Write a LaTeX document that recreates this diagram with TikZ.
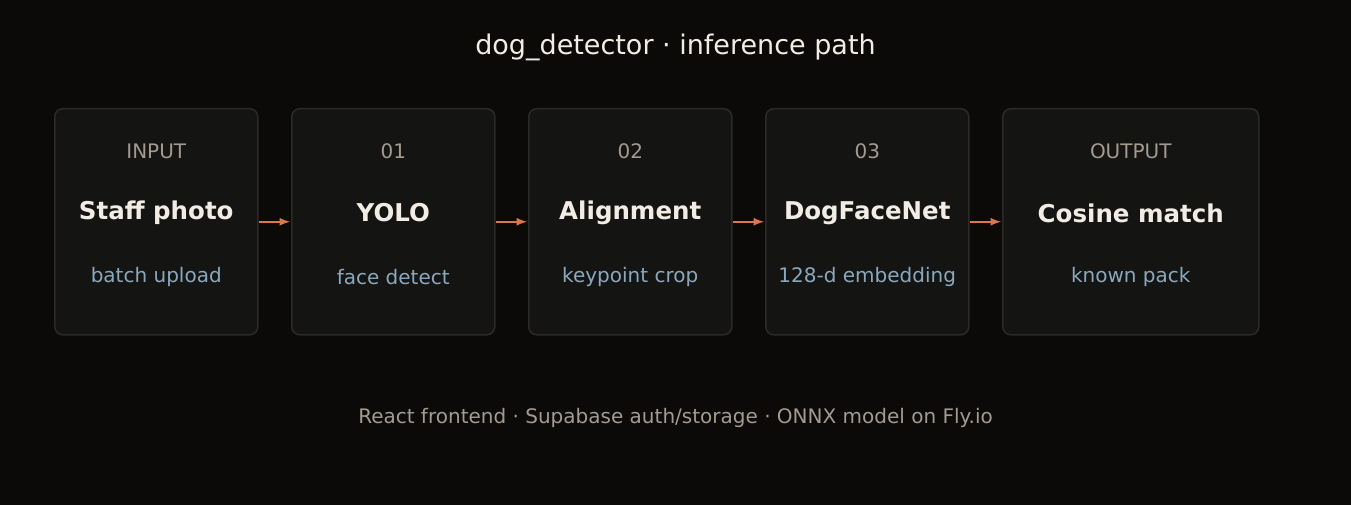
\documentclass[tikz,border=0pt]{standalone}
\usepackage{fontspec}
\setmainfont{DejaVu Sans}
\definecolor{bgc}{HTML}{0B0A09}
\definecolor{boxfill}{HTML}{141413}
\definecolor{boxline}{HTML}{2C2A28}
\definecolor{greytext}{HTML}{A39A90}
\definecolor{lighttext}{HTML}{F2EDE4}
\definecolor{bluetext}{HTML}{8AA8BD}
\definecolor{arrowc}{HTML}{D9774F}
\begin{document}
\begin{tikzpicture}[x=1pt,y=-1pt,>=latex]
    \tikzstyle{every node}=[inner sep=0pt]
    \tikzstyle{stage}=[draw=boxline,line width=1.5pt,fill=boxfill,rounded corners=8pt]
    \tikzstyle{stagetag}=[font=\fontsize{20}{24}\selectfont,text=greytext]
    \tikzstyle{stagename}=[font=\fontsize{24.5}{29}\selectfont\bfseries,text=lighttext]
    \tikzstyle{stagesub}=[font=\fontsize{20}{24}\selectfont,text=bluetext]
    \tikzstyle{flow}=[->,draw=arrowc,line width=2.5pt,shorten >=1pt]

    % background
    \fill[bgc] (0,0) rectangle (1351,505);
    \node[font=\fontsize{27}{32}\selectfont,text=lighttext] (title) at (675.5,47) {dog\_detector · inference path};

    % Draw the stages
    \foreach \id/\xa/\xb/\tg/\nm/\sb in {
        in/54/257/INPUT/Staff photo/batch upload,
        s1/291/494/01/YOLO/face detect,
        s2/528/731/02/Alignment/keypoint crop,
        s3/765/968/03/DogFaceNet/128-d embedding,
        out/1002/1258/OUTPUT/Cosine match/known pack}
    {
        \node[stage,minimum width=\xb-\xa,minimum height=226,anchor=north west] (\id) at (\xa,108) {};
        \node[stagetag] (\id-tag) at (\id.center |- 0,151) {\tg};
        \node[stagename] (\id-name) at (\id.center |- 0,213) {\nm};
        \node[stagesub] (\id-sub) at (\id.center |- 0,277) {\sb};
    }

    % Connect the stages
    \foreach \source/\dest in {in/s1,s1/s2,s2/s3,s3/out}
        \draw[flow] (\source.east) -- (\dest.west);

    \node[font=\fontsize{20}{24}\selectfont,text=greytext] (stack) at (675.5,418) {React frontend · Supabase auth/storage · ONNX model on Fly.io};
\end{tikzpicture}
\end{document}
